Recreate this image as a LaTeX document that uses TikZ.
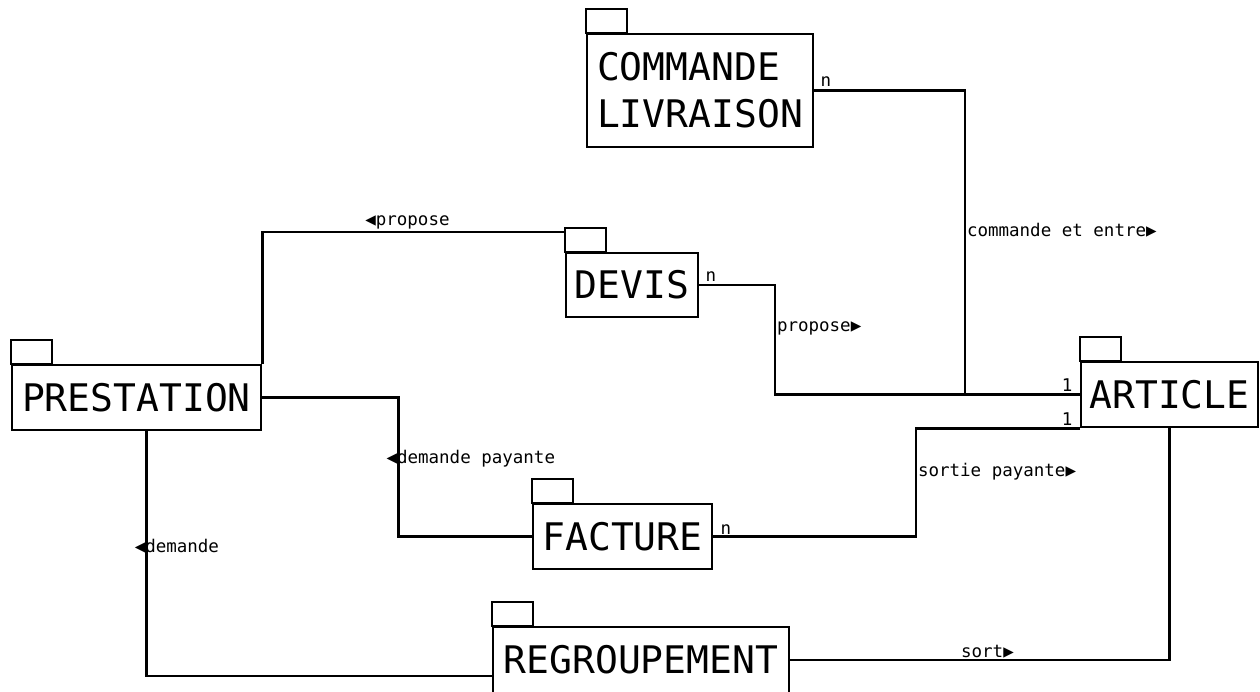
\documentclass[tikz,border=0pt]{standalone}
\usepackage{fontspec}
\usepackage{tikz}
\usetikzlibrary{positioning}
\newfontfamily\umlfont{DejaVu Sans Mono}
\newcommand{\versg}{◀}
\newcommand{\versd}{▶}
\tikzstyle{package} = [draw, inner sep=0pt, font=\umlfont\fontsize{38}{47}\selectfont]
\tikzstyle{mult} = [inner sep=1pt, font=\umlfont\fontsize{17.5}{20}\selectfont]
\tikzstyle{role} = [inner sep=1pt, font=\umlfont\fontsize{17.5}{20}\selectfont]

\begin{document}
\begin{tikzpicture}[x=1pt, y=-1pt, line width=2.5pt]
			\useasboundingbox (0,0) rectangle (1260,691);
			\node[package, minimum width=226, minimum height=113, align=left] (commande) at (700,90.5) {COMMANDE\\LIVRAISON};
			\node[package, minimum width=132, minimum height=64] (devis) at (632,285) {DEVIS};
			\node[package, minimum width=249, minimum height=65] (prestation) at (136.5,397.5) {PRESTATION};
			\node[package, minimum width=177, minimum height=65] (article) at (1169.5,394.5) {ARTICLE};
			\node[package, minimum width=179, minimum height=65] (facture) at (622.5,536.5) {FACTURE};
			\node[package, minimum width=296, minimum height=66] (regroupement) at (641,660) {REGROUPEMENT};
			\foreach \p in {commande,devis,prestation,article,facture,regroupement}
				\draw (\p.north west) rectangle ++(41,-24);
			% associations
			\draw (commande.east) -| node[role, right, pos=0.73] (r1) {commande et entre\versd} ([xshift=-115pt]article.west) -- (article.west);
			\draw (devis.east) -| node[role, right, pos=0.7] (r2) {propose\versd} ([xshift=-305pt]article.west) -- (article.west);
			\draw (prestation.north east) |- node[role, above, pos=0.74] (r3) {\versg propose} ([yshift=20pt]devis.north west);
			\draw (prestation.east) -- ++(136,0) |- node[role, right, pos=0.22, xshift=-14pt] (r4) {\versg demande payante} (facture.west);
			\draw (facture.east) -| node[role, right, pos=0.8] (r5) {sortie payante\versd} ([xshift=-164pt]article.south west) -- (article.south west);
			\draw ([xshift=10pt]prestation.south) |- node[role, right, pos=0.235, xshift=-14pt] (r6) {\versg demande} ([yshift=-16pt]regroupement.west);
			\draw (regroupement.east) -| node[role, above, pos=0.26] (r7) {sort\versd} (article.south);
			% multiplicites
			\node[mult, above right=2pt and 4pt of commande.east] (m1) {n};
			\node[mult, above right=1pt and 4pt of devis.east] (m2) {n};
			\node[mult, above right=0pt and 5pt of facture.east] (m3) {n};
			\node[mult, above left=1pt and 5pt of article.west] (m4) {1};
			\node[mult, above left=1pt and 5pt of article.south west] (m5) {1};
		\end{tikzpicture}
\end{document}
